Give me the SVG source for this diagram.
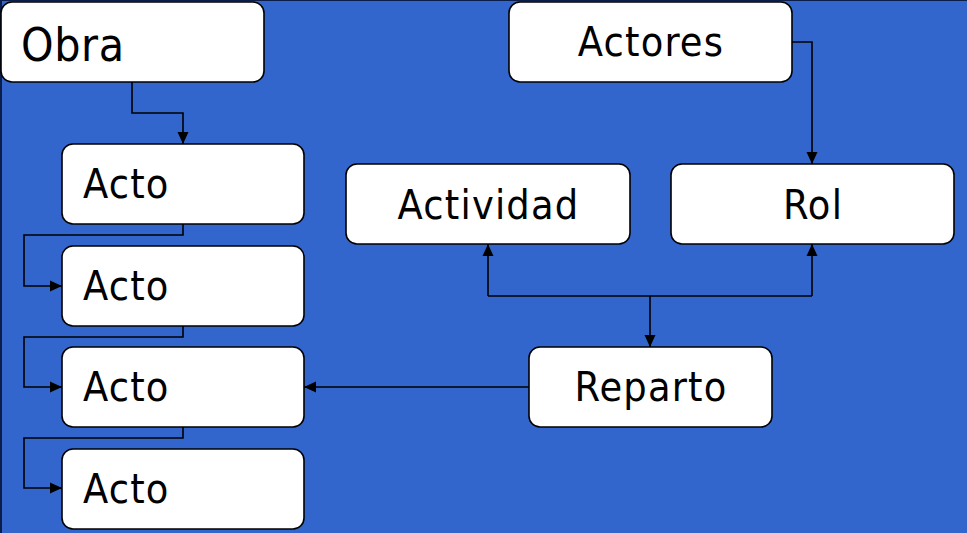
<svg xmlns="http://www.w3.org/2000/svg" width="967" height="533" viewBox="0 0 967 533">
<style>
.box{fill:#ffffff;stroke:#000000;stroke-width:1.6}
.t{font-family:"DejaVu Sans Condensed","DejaVu Sans",sans-serif;font-stretch:condensed;font-size:41px;letter-spacing:1.2px;fill:#000000}
.c{text-anchor:middle}
.ln{fill:none;stroke:#000000;stroke-width:1.6}
</style>
<defs>
<marker id="ah" viewBox="0 0 12 12" refX="12" refY="6" markerWidth="12" markerHeight="12" markerUnits="userSpaceOnUse" orient="auto">
<path d="M0,0.5 L12,6 L0,11.5 Z" fill="#000000"/>
</marker>
</defs>
<rect x="0" y="0" width="967" height="533" fill="#3366CC"/>
<line x1="0" y1="0.5" x2="967" y2="0.5" stroke="#0b1d4a" stroke-width="1"/>
<line x1="1" y1="0" x2="1" y2="533" stroke="#0b1d4a" stroke-width="2"/>
<g id="connectors">
<polyline class="ln" points="132,82 132,113 183,113 183,144" marker-end="url(#ah)"/>
<polyline class="ln" points="183,224 183,235 24,235 24,286 62,286" marker-end="url(#ah)"/>
<polyline class="ln" points="183,326 183,337 24,337 24,387 62,387" marker-end="url(#ah)"/>
<polyline class="ln" points="183,427 183,438 24,438 24,488 62,488" marker-end="url(#ah)"/>
<polyline class="ln" points="792,42 812,42 812,164" marker-end="url(#ah)"/>
<line class="ln" x1="488" y1="296" x2="812" y2="296"/>
<line class="ln" x1="488" y1="296" x2="488" y2="244" marker-end="url(#ah)"/>
<line class="ln" x1="812" y1="296" x2="812" y2="244" marker-end="url(#ah)"/>
<line class="ln" x1="650" y1="296" x2="650" y2="347" marker-end="url(#ah)"/>
<line class="ln" x1="529" y1="387" x2="304" y2="387" marker-end="url(#ah)"/>
</g>
<g id="obra"><rect class="box" x="1" y="2" width="263" height="80" rx="11"/><text class="t" x="21" y="61" style="font-size:46px;letter-spacing:0.6px">Obra</text></g>
<g id="acto1"><rect class="box" x="62" y="144" width="242" height="80" rx="11"/><text class="t" x="83" y="198">Acto</text></g>
<g id="acto2"><rect class="box" x="62" y="246" width="242" height="80" rx="11"/><text class="t" x="83" y="300">Acto</text></g>
<g id="acto3"><rect class="box" x="62" y="347" width="242" height="80" rx="11"/><text class="t" x="83" y="401">Acto</text></g>
<g id="acto4"><rect class="box" x="62" y="449" width="242" height="80" rx="11"/><text class="t" x="83" y="503">Acto</text></g>
<g id="actores"><rect class="box" x="509" y="2" width="283" height="80" rx="11"/><text class="t c" x="651" y="56">Actores</text></g>
<g id="actividad"><rect class="box" x="346" y="164" width="284" height="80" rx="11"/><text class="t c" x="488.5" y="219">Actividad</text></g>
<g id="rol"><rect class="box" x="671" y="164" width="283" height="80" rx="11"/><text class="t c" x="813" y="219">Rol</text></g>
<g id="reparto"><rect class="box" x="529" y="347" width="243" height="80" rx="11"/><text class="t c" x="651" y="401">Reparto</text></g>
</svg>
